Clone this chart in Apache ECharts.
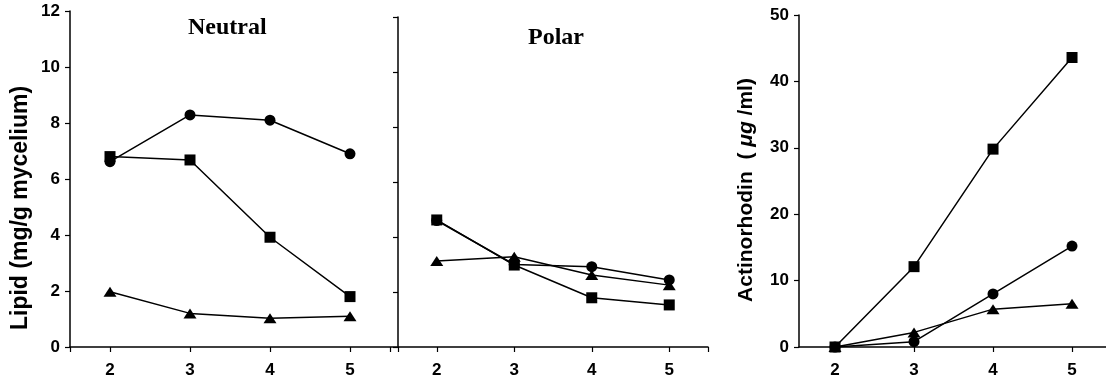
<!DOCTYPE html>
<html>
<head>
<meta charset="utf-8">
<script src="https://cdn.jsdelivr.net/npm/echarts@6/dist/echarts.min.js"></script>
<style>
  html, body { margin: 0; padding: 0; background: #fff; }
  #chart { width: 1106px; height: 379px; }
</style>
</head>
<body>
<div id="chart"></div>
<script>
// weeks on the x axis
const weeks = [2, 3, 4, 5]
// neutral lipid (mg/g mycelium)
const neutralCircle = [6.62, 8.29, 8.1, 6.9]
const neutralSquare = [6.8, 6.68, 3.92, 1.8]
const neutralTriangle = [1.97, 1.2, 1.03, 1.1]
// polar lipid
const polarCircle = [4.6, 3.0, 2.92, 2.44]
const polarSquare = [4.62, 2.98, 1.79, 1.53]
const polarTriangle = [3.13, 3.28, 2.62, 2.25]
// actinorhodin (ug/ml)
const actCircle = [0, 0.8, 8.0, 15.2]
const actSquare = [0, 12.1, 29.8, 43.6]
const actTriangle = [0, 2.2, 5.7, 6.5]
// tick labels
const lipidTicks = [0, 2, 4, 6, 8, 10, 12]
const actTicks = [0, 10, 20, 30, 40, 50]

const chart = echarts.init(document.getElementById('chart'))

const labelFont = { color: '#000', fontFamily: 'Liberation Sans', fontWeight: 'bold', fontSize: 17 }
const axisLine = { show: true, lineStyle: { color: '#000', width: 1.5 } }

function xAxisFor(grid, min, max, tickVals) {
  return {
    type: 'value', gridIndex: grid, min: min, max: max,
    axisLine: axisLine,
    splitLine: { show: false },
    axisTick: { show: true, length: 5, lineStyle: { color: '#000', width: 1.2 }, customValues: tickVals },
    axisLabel: Object.assign({ margin: 15, customValues: weeks }, labelFont)
  }
}

function yAxisFor(grid, max, interval, ticks, showLabels, name, nameOpts) {
  const ax = {
    type: 'value', gridIndex: grid, min: 0, max: max, interval: interval,
    axisLine: axisLine,
    splitLine: { show: false },
    axisTick: { show: true, length: 5, lineStyle: { color: '#000', width: 1.2 }, customValues: ticks },
    axisLabel: Object.assign({ show: showLabels, margin: 10, customValues: ticks }, labelFont)
  }
  if (name) {
    ax.name = name
    ax.nameLocation = 'middle'
    Object.assign(ax, nameOpts)
  }
  return ax
}

function line(name, grid, values, symbol, size) {
  return {
    name: name, type: 'line', xAxisIndex: grid, yAxisIndex: grid,
    data: weeks.map((w, i) => [w, values[i]]),
    symbol: symbol, symbolSize: size,
    lineStyle: { color: '#000', width: 1.5 },
    itemStyle: { color: '#000' },
    animation: false
  }
}

const option = {
  backgroundColor: '#fff',
  animation: false,
  title: [
    { text: 'Neutral', left: 188, top: 16, padding: 0,
      textStyle: { fontFamily: 'Liberation Serif', fontWeight: 'bold', fontSize: 24, color: '#000' } },
    { text: 'Polar', left: 528, top: 26, padding: 0,
      textStyle: { fontFamily: 'Liberation Serif', fontWeight: 'bold', fontSize: 24, color: '#000' } }
  ],
  grid: [
    { left: 70, top: 11, width: 327, height: 336 },
    { left: 398, top: 17, width: 310, height: 330 },
    { left: 799, top: 15, width: 307, height: 332 }
  ],
  xAxis: [
    xAxisFor(0, 1.5, 5.5875, [1.5, 2, 3, 4, 5, 5.5]),
    xAxisFor(1, 1.5, 5.5, [1.5, 2, 3, 4, 5, 5.5]),
    xAxisFor(2, 1.544, 5.43, [2, 3, 4, 5])
  ],
  yAxis: [
    yAxisFor(0, 12, 2, lipidTicks, true, 'Lipid (mg/g mycelium)', {
      nameGap: 38,
      nameTextStyle: { color: '#000', fontFamily: 'Liberation Sans', fontWeight: 'bold', fontSize: 23, padding: [0, 58, 0, 0] }
    }),
    yAxisFor(1, 12, 2, lipidTicks, false),
    yAxisFor(2, 50, 10, actTicks, true, '{a|Actinorhodin}  {a|(}{i| μg}{a| /ml)}', {
      nameGap: 42,
      nameTextStyle: {
        color: '#000', fontFamily: 'Liberation Sans', fontWeight: 'bold', fontSize: 21, padding: [0, 18, 0, 0],
        rich: {
          a: { fontFamily: 'Liberation Sans', fontWeight: 'bold', fontSize: 21, color: '#000' },
          i: { fontFamily: 'Liberation Sans', fontStyle: 'italic', fontSize: 21, color: '#000' }
        }
      }
    })
  ],
  series: [
    line('neutral circle', 0, neutralCircle, 'circle', 11),
    line('neutral square', 0, neutralSquare, 'rect', 11),
    line('neutral triangle', 0, neutralTriangle, 'triangle', [13, 10]),
    line('polar circle', 1, polarCircle, 'circle', 11),
    line('polar square', 1, polarSquare, 'rect', 11),
    line('polar triangle', 1, polarTriangle, 'triangle', [13, 10]),
    line('act circle', 2, actCircle, 'circle', 11),
    line('act triangle', 2, actTriangle, 'triangle', [13, 10]),
    line('act square', 2, actSquare, 'rect', 11)
  ]
}

chart.setOption(option)
</script>
</body>
</html>
